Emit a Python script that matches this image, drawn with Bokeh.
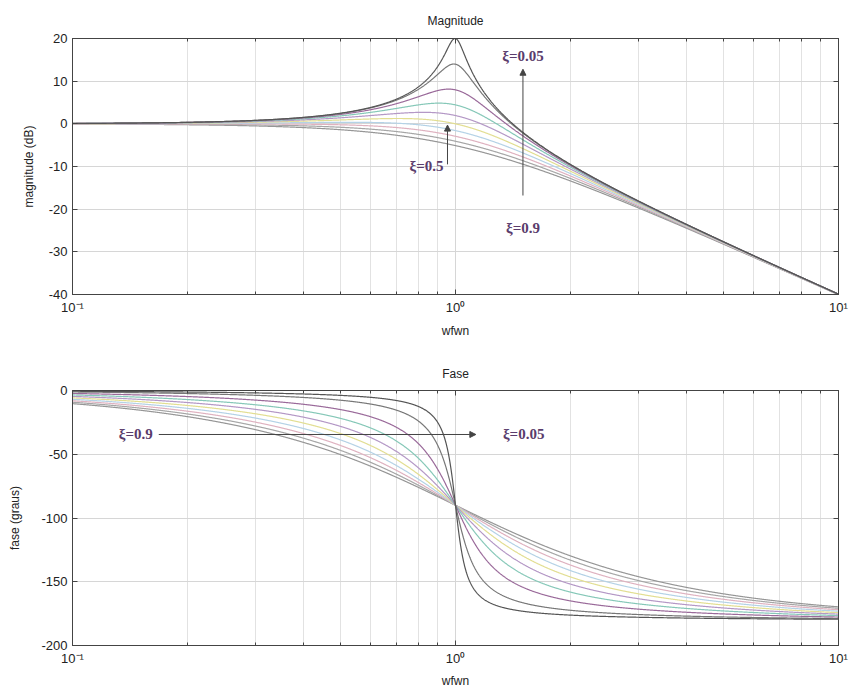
import numpy as np
from bokeh.plotting import figure
from bokeh.layouts import column
from bokeh.models import FixedTicker, LogAxis, LinearAxis, Arrow, NormalHead, Label
from bokeh.embed import file_html
from bokeh.resources import INLINE

# ---- data ----
zetas = [0.05, 0.1, 0.2, 0.3, 0.4, 0.5, 0.6, 0.7, 0.8, 0.9]
colors = ["#555555", "#777777", "#9a6a9a", "#86c8b8", "#b498c6",
          "#e2de92", "#b4d2e6", "#dfb2c0", "#a6a6a6", "#969696"]
x_major = [0.1, 1, 10]
x_major_labels = {0.1: "10⁻¹", 1: "10⁰", 10: "10¹"}
x_minor = [0.2, 0.3, 0.4, 0.5, 0.6, 0.7, 0.8, 0.9, 2, 3, 4, 5, 6, 7, 8, 9]
mag_ticks = [-40, -30, -20, -10, 0, 10, 20]
mag_labels = {-40: "-40", -30: "-30", -20: "-20", -10: "-10", 0: "0", 10: "10", 20: "20"}
phase_ticks = [-200, -150, -100, -50, 0]
phase_labels = {-200: "-200", -150: "-150", -100: "-100", -50: "-50", 0: "0"}
u = np.logspace(-1, 1, 2000)  # w/wn

def response(z):
    h = 1.0 / (1 - u**2 + 2j * z * u)
    return 20 * np.log10(np.abs(h)), np.degrees(np.angle(h))

FONT = "Liberation Sans"
SERIF = "Liberation Serif"
TXT = "#5a3c6c"

def make_fig(height, yr, yticks, ylabels, title, ylabel, top, bottom, tstand, ystand, xstand):
    p = figure(width=849, height=height, x_axis_type="log", x_range=(0.1, 10),
               y_range=yr, output_backend="svg", toolbar_location=None,
               min_border_left=72, min_border_right=11, min_border_top=top,
               min_border_bottom=bottom)
    p.title.text = title
    p.title.align = "center"
    p.title.text_font = FONT
    p.title.text_font_style = "normal"
    p.title.text_font_size = "12px"
    p.title.text_color = "#222222"
    p.title.standoff = tstand
    p.outline_line_color = "#444444"
    p.background_fill_color = "white"
    p.border_fill_color = "white"
    xt = FixedTicker(ticks=x_major, minor_ticks=x_minor)
    yt = FixedTicker(ticks=yticks, minor_ticks=[])
    xa = p.xaxis[0]
    xa.ticker = xt
    xa.major_label_overrides = x_major_labels
    xa.axis_label = "wfwn"
    ya = p.yaxis[0]
    ya.ticker = yt
    ya.major_label_overrides = ylabels
    ya.axis_label = ylabel
    for ax in (xa, ya):
        ax.axis_line_color = "#444444"
        ax.major_tick_line_color = "#444444"
        ax.minor_tick_line_color = "#444444"
        ax.major_tick_in = 5
        ax.major_tick_out = 0
        ax.minor_tick_in = 3
        ax.minor_tick_out = 0
        ax.major_label_text_font = FONT
        ax.major_label_text_font_size = "13px"
        ax.major_label_text_color = "#222222"
        ax.axis_label_text_font = FONT
        ax.axis_label_text_font_size = "12px"
        ax.axis_label_text_font_style = "normal"
        ax.axis_label_text_color = "#222222"
        ax.major_label_standoff = 5
    xa.axis_label_standoff = xstand
    ya.axis_label_standoff = ystand
    ya.minor_tick_line_color = None
    # ticks on top and right (MATLAB box)
    top_ax = LogAxis(ticker=xt, major_label_text_font_size="1px",
                     major_label_text_color=None,
                     axis_line_color="#444444", major_tick_in=5, major_tick_out=0,
                     minor_tick_in=3, minor_tick_out=0, major_label_standoff=0,
                     major_tick_line_color="#444444", minor_tick_line_color="#444444")
    right_ax = LinearAxis(ticker=yt, major_label_text_font_size="1px",
                          major_label_text_color=None,
                          axis_line_color="#444444", major_tick_in=5, major_tick_out=0,
                          minor_tick_line_color=None, major_label_standoff=0,
                          major_tick_line_color="#444444")
    p.add_layout(top_ax, "above")
    p.add_layout(right_ax, "right")
    p.xgrid.ticker = xt
    p.ygrid.ticker = yt
    p.xgrid.grid_line_color = "#d6d6d6"
    p.ygrid.grid_line_color = "#d6d6d6"
    p.xgrid.minor_grid_line_color = "#e2e2e2"
    return p

p1 = make_fig(350, (-40, 20), mag_ticks, mag_labels, "Magnitude", "magnitude (dB)",
              38, 56, 22, 10, 6)
p2 = make_fig(342, (-200, 0), phase_ticks, phase_labels, "Fase", "fase (graus)",
              40, 47, 19, 16, 5)

for z, c in reversed(list(zip(zetas, colors))):
    mag, ph = response(z)
    p1.line(u, mag, line_color=c, line_width=1.2)
    p2.line(u, ph, line_color=c, line_width=1.2)

def arrow(p, x0, y0, x1, y1):
    p.add_layout(Arrow(x_start=x0, y_start=y0, x_end=x1, y_end=y1,
                       line_color="#444444", line_width=1,
                       end=NormalHead(size=6, fill_color="#444444", line_color="#444444")))

def label(p, x, y, t, align="left"):
    p.add_layout(Label(x=x, y=y, text=t, text_font=SERIF, text_font_size="15px",
                       text_font_style="bold", text_color=TXT, text_align=align,
                       text_baseline="middle"))

# magnitude annotations
arrow(p1, 1.5, -16.8, 1.5, 12.8)
label(p1, 1.5, 15.8, "ξ=0.05", "center")
label(p1, 1.5, -24.3, "ξ=0.9", "center")
arrow(p1, 0.953, -9.5, 0.953, -0.3)
label(p1, 0.93, -9.8, "ξ=0.5", "right")

# phase annotations
arrow(p2, 0.168, -34.5, 1.13, -34.5)
label(p2, 0.162, -34.5, "ξ=0.9", "right")
label(p2, 1.33, -34.5, "ξ=0.05", "left")

open("out.html", "w").write(file_html(column(p1, p2), INLINE))
